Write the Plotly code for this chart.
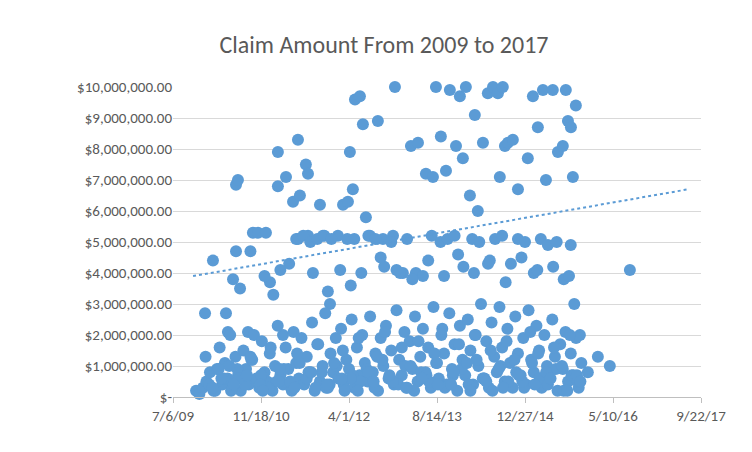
import plotly.graph_objects as go
import pandas as pd

# Excel serial dates and claim amounts (millions of $)
high_serial = [40131,40182,40227,40301,40312,40341,40358,40369,40358,40381,40426,40454,40483,40528,40551,40596,40596,40625,40642,40682,40710,40710,40721,40755,40767,40767,40795,40835,40852,40892,40937,40966,40994,41005,41022,41034,41062,41079,41096,41119,41164,41193,41250,41261,41306,41352,41392,41437,41477,41494,41522,41551,41573,41608,41630,41647,41664,41687,41715,41732,41761,41789,41818,41846,41857,41874,41886,41903,41931,41960,42016,42045,42073,42102,42119,42158,42187,42215,42232,42244,42261,42272,42289,42312,42357,42414,42482,42596]
high_value = [0.2,2.7,4.4,2.7,2.1,3.8,6.85,7.0,4.7,3.5,2.1,5.3,5.3,5.3,3.7,6.8,7.9,2.0,7.1,6.3,8.3,5.1,6.5,7.5,7.2,5.2,4.0,6.2,5.2,3.0,5.2,6.2,6.3,7.9,6.7,9.6,9.7,8.8,5.8,5.2,8.9,5.1,5.2,10.0,4.0,8.1,8.2,7.2,7.1,10.0,8.4,7.3,9.9,8.1,9.7,7.7,10.0,6.5,9.1,6.0,8.2,9.8,10.0,9.8,7.1,10.0,8.1,8.2,8.3,6.7,7.7,9.7,8.7,9.9,7.0,9.9,7.9,8.1,9.9,8.9,8.7,7.1,9.4,2.0,0.8,1.3,1.0,4.1]

mid_serial = [40700,40740,40780,40820,40860,40900,40950,40990,41030,41070,41110,41150,41200,41240,41290,41330,41380,41420,41470,41520,41560,41600,41650,41700,41740,41790,41830,41870,41920,41960,42000,42050,42090,42130,42180,42220,42260,40610,40660,40880,41010,41180,41270,41360,41450,41540,41620,41710,41800,41890,41980,42070,42160,42250,42280,40440,40520,40570]
mid_value = [5.1,5.2,5.0,5.1,5.2,5.1,4.1,5.1,5.1,4.0,5.2,5.1,4.2,5.0,4.0,5.1,4.0,3.9,5.2,5.0,5.1,5.2,4.2,5.1,5.0,4.3,5.1,5.2,4.3,5.1,5.0,4.0,5.1,4.9,5.0,3.8,4.9,4.1,4.3,3.4,3.6,4.5,4.1,3.8,4.4,3.9,4.6,4.0,4.4,3.7,4.5,4.1,4.2,3.9,3.0,4.7,3.9,3.3]

low_serial = [40150,40170,40190,40210,40230,40250,40265,40280,40295,40310,40325,40340,40355,40370,40385,40400,40415,40430,40445,40460,40475,40490,40505,40520,40535,40550,40565,40580,40595,40610,40625,40640,40655,40670,40685,40700,40715,40730,40745,40760,40775,40790,40805,40820,40835,40850,40865,40880,40895,40910,40925,40940,40955,40970,40985,41000,41015,41030,41045,41060,41075,41090,41105,41120,41135,41150,41165,41180,41195,41210,41225,41240,41255,41270,41285,41300,41315,41330,41345,41360,41375,41390,41405,41420,41435,41450,41465,41480,41495,41510,41525,41540,41555,41570,41585,41600,41615,41630,41645,41660,41675,41690,41705,41720,41735,41750,41765,41780,41795,41810,41825,41840,41855,41870,41885,41900,41915,41930,41945,41960,41975,41990,42005,42020,42035,42050,42065,42080,42095,42110,42125,42140,42155,42170,42185,42200,42215,42230,42245,42260,42275,42290,42305,42320,
40205,40240,40290,40330,40365,40410,40450,40500,40545,40590,40630,40675,40720,40760,40810,40845,40890,40930,40975,41020,41065,41100,41145,41190,41235,41280,41320,41370,41410,41455,41500,41545,41590,41640,41680,41725,41770,41815,41860,41905,41950,41995,42040,42085,42130,42175,42220,42265,42300,
40225,40275,40320,40375,40440,40495,40555,40605,40665,40705,40770,40825,40870,40915,40965,41010,41055,41110,41160,41205,41250,41300,41350,41395,41440,41485,41530,41580,41625,41670,41715,41760,41805,41850,41895,41940,41985,42030,42075,42120,42165,42210,42255,42295,
40185,40260,40345,40420,40510,40600,40690,40785,40875,40960,41050,41140,41230,41325,41415,41505,41595,41690,41780,41875,41965,42055,42145,42240,42315]
low_value = [0.1,0.3,0.5,0.8,0.2,0.9,1.6,0.4,1.1,0.6,2.0,0.3,1.3,0.7,0.2,1.5,0.9,0.4,1.2,2.0,0.6,0.3,1.8,0.8,0.5,1.4,0.2,1.0,2.3,0.7,0.4,1.6,0.9,0.3,2.1,1.1,0.6,1.9,0.4,1.3,0.8,2.4,0.2,1.7,0.5,1.0,2.7,0.3,1.4,0.8,1.9,0.6,2.2,0.4,1.2,0.9,2.5,0.3,1.6,0.7,2.0,1.1,0.5,2.6,0.8,1.4,0.2,1.9,1.0,2.3,0.6,1.5,0.4,2.8,1.2,0.7,2.1,0.3,1.8,0.9,2.6,0.5,1.3,2.2,0.8,1.6,0.3,2.9,1.1,0.6,2.0,1.4,0.4,2.7,0.9,1.7,0.2,2.3,1.2,0.7,2.5,1.5,0.4,2.0,1.0,3.0,0.6,1.8,0.3,2.4,1.3,0.8,2.9,1.6,0.5,2.2,1.1,0.3,2.6,1.4,0.7,1.9,0.4,2.8,1.2,0.8,2.3,1.5,0.3,2.0,1.0,0.6,2.5,1.3,0.2,1.7,0.9,2.1,0.5,1.4,0.7,1.9,0.3,1.1,0.4,0.2,
0.6,0.2,0.9,0.4,1.2,0.7,0.3,0.5,0.9,0.2,1.1,0.6,0.3,0.8,0.4,1.0,0.2,0.7,0.5,0.9,0.3,1.2,0.6,0.4,1.0,0.2,0.8,0.5,1.1,0.3,0.7,0.9,0.4,1.2,0.6,0.2,1.0,0.5,0.8,0.3,1.1,0.6,0.4,0.9,0.2,0.7,0.5,0.3,0.6,
1.0,0.6,1.3,0.4,1.6,0.9,0.5,1.4,0.8,1.7,0.3,1.1,1.5,0.6,1.9,0.8,1.3,2.1,0.5,1.6,1.0,1.8,0.7,1.4,2.2,0.4,1.7,1.1,2.0,0.6,1.5,0.9,1.8,1.2,0.5,2.1,1.4,0.8,1.6,1.0,2.0,0.7,1.3,0.9,
0.4,0.7,0.2,0.5,0.3,0.8,0.4,0.6,0.2,0.5,0.7,0.3,0.6,0.4,0.8,0.2,0.5,0.3,0.7,0.4,0.6,0.2,0.5,0.3,0.4]

trend_serial = [40114, 42927]
trend_value = [3.9, 6.7]

y_ticks = [0,1,2,3,4,5,6,7,8,9,10]
y_labels = ["$-"] + ["${:,.2f}".format(v*1e6) for v in y_ticks[1:]]
x_tick_serial = [40000,40500,41000,41500,42000,42500,43000]
x_tick_labels = ["7/6/09","11/18/10","4/1/12","8/14/13","12/27/14","5/10/16","9/22/17"]

def to_date(s):
    return pd.to_datetime(pd.Series(s), unit="D", origin="1899-12-30")

xs = list(high_serial) + list(mid_serial) + list(low_serial)
ys = [v*1e6 for v in list(high_value) + list(mid_value) + list(low_value)]

fig = go.Figure()
fig.add_trace(go.Scatter(x=to_date(xs), y=ys, mode="markers",
                         marker=dict(color="#5B9BD5", size=12), cliponaxis=False))
fig.add_trace(go.Scatter(x=to_date(trend_serial), y=[v*1e6 for v in trend_value], mode="lines",
                         line=dict(color="#5B9BD5", width=2, dash="dot")))
fig.update_layout(
    width=752, height=452, showlegend=False,
    paper_bgcolor="white", plot_bgcolor="white",
    margin=dict(l=165, r=59, t=79, b=63),
    font=dict(family="Carlito, Liberation Sans, Arial", color="#595959", size=15),
    title=dict(text="Claim Amount From 2009 to 2017", x=0.5, xanchor="center", y=0.92, yanchor="middle",
               font=dict(size=24, color="#595959")),
    xaxis=dict(range=to_date([40000,43000]).tolist(), tickvals=to_date(x_tick_serial).tolist(),
               ticktext=x_tick_labels, showgrid=False, showline=True, linecolor="#BFBFBF",
               ticks="outside", tickcolor="#BFBFBF", ticklen=5, zeroline=False),
    yaxis=dict(range=[0,10e6], tickvals=[v*1e6 for v in y_ticks], ticktext=y_labels,
               showgrid=True, gridcolor="#D9D9D9", zeroline=False, showline=False),
)
fig.write_html("out.html")
